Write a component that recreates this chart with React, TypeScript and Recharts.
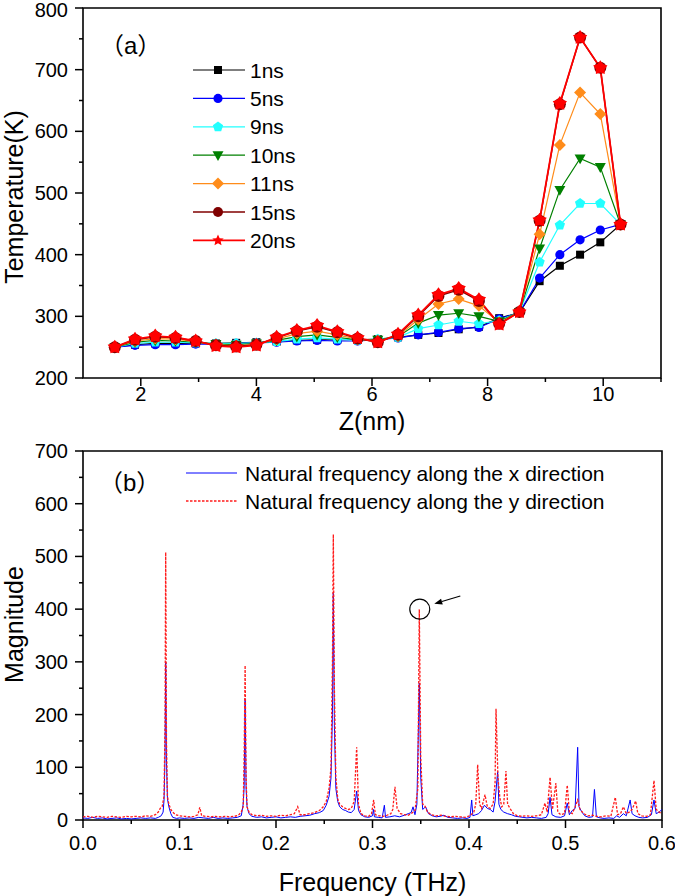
import React from 'react';
import {
  LineChart, Line, XAxis, YAxis, Legend,
  ReferenceArea, ReferenceDot, ReferenceLine,
} from 'recharts';

const FONT = '"Liberation Sans", Arial, "Noto Sans CJK SC", sans-serif';

// ---------- panel (a): temperature along Z ----------
const zValues = [1.55, 1.9, 2.25, 2.6, 2.95, 3.3, 3.65, 4.0, 4.35, 4.7, 5.05, 5.4, 5.75,
  6.1, 6.45, 6.8, 7.15, 7.5, 7.85, 8.2, 8.55, 8.9, 9.25, 9.6, 9.95, 10.3];

const temp1ns = [250, 254, 256, 256, 256, 256, 257, 258, 259, 261, 262, 262, 262,
  263, 266, 270, 273, 279, 283, 297, 306, 357, 382, 400, 420, 449];
const temp5ns = [250, 253, 254, 254, 255, 255, 256, 257, 258, 260, 261, 260, 260,
  262, 265, 270, 274, 280, 282, 296, 306, 362, 400, 424, 440, 449];
const temp9ns = [250, 256, 258, 258, 257, 256, 256, 257, 259, 263, 265, 263, 261,
  263, 266, 280, 286, 292, 288, 293, 307, 388, 448, 483, 483, 449];
const temp10ns = [250, 258, 261, 260, 258, 255, 254, 256, 261, 267, 270, 266, 262,
  262, 267, 289, 302, 305, 300, 292, 307, 410, 505, 556, 542, 449];
const temp11ns = [250, 260, 264, 263, 259, 254, 252, 255, 263, 272, 276, 270, 263,
  260, 268, 295, 320, 328, 317, 290, 307, 433, 578, 663, 628, 449];
const temp15ns = [250, 262, 267, 265, 260, 253, 251, 254, 265, 276, 283, 274, 264,
  258, 270, 300, 333, 343, 325, 288, 307, 455, 644, 752, 703, 449];
const temp20ns = [250, 263, 268, 266, 260, 252, 250, 253, 266, 277, 285, 275, 265,
  258, 271, 302, 335, 345, 327, 287, 307, 456, 645, 752, 703, 449];

const zTicks = [2, 3, 4, 5, 6, 7, 8, 9, 10, 11];
const zMajor = [2, 4, 6, 8, 10];
const tempTicks = [200, 250, 300, 350, 400, 450, 500, 550, 600, 650, 700, 750, 800];
const tempMajor = [200, 300, 400, 500, 600, 700, 800];

// ---------- panel (b): natural frequency spectrum ----------
const xDirFreq = [
  0, 0.005, 0.01, 0.015, 0.02, 0.025, 0.03, 0.035, 0.04, 0.045,
  0.05, 0.055, 0.06, 0.065, 0.07, 0.075, 0.078, 0.081, 0.083, 0.084,
  0.085, 0.0857, 0.0865, 0.0875, 0.089, 0.091, 0.093, 0.097, 0.1, 0.105,
  0.11, 0.115, 0.12, 0.125, 0.13, 0.135, 0.14, 0.145, 0.15, 0.155,
  0.16, 0.164, 0.166, 0.167, 0.168, 0.169, 0.17, 0.172, 0.175, 0.18,
  0.185, 0.19, 0.195, 0.2, 0.205, 0.21, 0.215, 0.22, 0.225, 0.23,
  0.235, 0.24, 0.245, 0.249, 0.252, 0.255, 0.257, 0.2585, 0.2594, 0.2605,
  0.262, 0.264, 0.266, 0.269, 0.272, 0.275, 0.278, 0.281, 0.2836, 0.2855,
  0.288, 0.292, 0.296, 0.3, 0.301, 0.302, 0.306, 0.31, 0.3123, 0.3135,
  0.318, 0.323, 0.328, 0.333, 0.337, 0.34, 0.342, 0.344, 0.346, 0.3485,
  0.35, 0.352, 0.355, 0.358, 0.362, 0.366, 0.37, 0.374, 0.378, 0.383,
  0.388, 0.393, 0.398, 0.401, 0.4028, 0.404, 0.407, 0.41, 0.413, 0.416,
  0.419, 0.422, 0.425, 0.427, 0.4297, 0.431, 0.433, 0.436, 0.44, 0.444,
  0.448, 0.452, 0.456, 0.46, 0.465, 0.47, 0.475, 0.48, 0.482, 0.484,
  0.486, 0.49, 0.495, 0.499, 0.5018, 0.504, 0.507, 0.51, 0.5126, 0.514,
  0.517, 0.52, 0.524, 0.528, 0.53, 0.532, 0.536, 0.54, 0.545, 0.55,
  0.553, 0.556, 0.56, 0.563, 0.567, 0.569, 0.572, 0.576, 0.58, 0.585,
  0.589, 0.5917, 0.594, 0.597, 0.6,
];
const xDirMag = [
  4, 3, 5, 3, 4, 2, 3, 4, 2, 3,
  2, 3, 4, 3, 4, 3, 5, 8, 15, 38,
  120, 300, 110, 40, 25, 12, 5, 3, 4, 3,
  4, 3, 5, 4, 3, 5, 3, 4, 3, 4,
  5, 8, 30, 63, 230, 60, 25, 12, 7, 5,
  6, 4, 5, 6, 4, 5, 6, 5, 7, 8,
  9, 12, 14, 18, 28, 45, 80, 200, 430, 180,
  60, 35, 25, 20, 18, 15, 14, 20, 55, 18,
  10, 6, 5, 8, 20, 6, 5, 4, 28, 5,
  6, 8, 6, 9, 12, 14, 25, 10, 30, 260,
  80, 20, 25, 12, 8, 6, 7, 9, 5, 4,
  3, 4, 3, 5, 38, 8, 10, 12, 18, 28,
  22, 20, 15, 35, 92, 30, 20, 15, 12, 10,
  7, 6, 5, 4, 5, 4, 3, 5, 12, 43,
  10, 6, 5, 8, 32, 10, 18, 22, 138, 25,
  15, 8, 5, 6, 58, 6, 4, 3, 4, 3,
  8, 5, 12, 8, 38, 12, 8, 5, 4, 5,
  10, 38, 12, 15, 20,
];

const yDirFreq = [
  0, 0.005, 0.01, 0.015, 0.02, 0.025, 0.03, 0.035, 0.04, 0.045,
  0.05, 0.055, 0.06, 0.065, 0.07, 0.075, 0.078, 0.08, 0.082, 0.084,
  0.085, 0.0857, 0.0865, 0.0875, 0.089, 0.091, 0.093, 0.096, 0.1, 0.105,
  0.11, 0.115, 0.119, 0.121, 0.123, 0.127, 0.132, 0.137, 0.142, 0.147,
  0.152, 0.157, 0.161, 0.164, 0.166, 0.167, 0.168, 0.169, 0.17, 0.172,
  0.175, 0.18, 0.185, 0.19, 0.195, 0.2, 0.205, 0.21, 0.215, 0.219,
  0.2225, 0.225, 0.23, 0.235, 0.24, 0.245, 0.249, 0.252, 0.255, 0.257,
  0.2585, 0.2594, 0.2605, 0.262, 0.264, 0.266, 0.269, 0.272, 0.275, 0.278,
  0.281, 0.2836, 0.2855, 0.288, 0.292, 0.296, 0.299, 0.3012, 0.303, 0.307,
  0.311, 0.315, 0.319, 0.321, 0.3233, 0.3255, 0.329, 0.333, 0.337, 0.34,
  0.344, 0.347, 0.3485, 0.35, 0.352, 0.354, 0.357, 0.361, 0.366, 0.371,
  0.376, 0.381, 0.386, 0.391, 0.396, 0.401, 0.405, 0.407, 0.409, 0.411,
  0.413, 0.4166, 0.419, 0.422, 0.425, 0.427, 0.428, 0.43, 0.432, 0.434,
  0.436, 0.4383, 0.44, 0.4425, 0.446, 0.45, 0.455, 0.46, 0.465, 0.47,
  0.475, 0.4787, 0.481, 0.484, 0.4865, 0.49, 0.492, 0.495, 0.499, 0.5018,
  0.504, 0.507, 0.51, 0.5126, 0.515, 0.519, 0.523, 0.528, 0.532, 0.537,
  0.542, 0.547, 0.5516, 0.554, 0.557, 0.56, 0.563, 0.566, 0.569, 0.5727,
  0.575, 0.579, 0.584, 0.588, 0.5917, 0.594, 0.597, 0.6,
];
const yDirMag = [
  6, 7, 5, 7, 6, 5, 7, 6, 5, 7,
  6, 7, 6, 8, 7, 10, 15, 22, 25, 45,
  180, 508, 150, 45, 30, 20, 15, 10, 8, 7,
  6, 7, 10, 24, 8, 7, 6, 7, 6, 7,
  6, 7, 9, 15, 25, 120, 293, 80, 25, 15,
  10, 8, 9, 7, 8, 7, 9, 8, 10, 12,
  25, 10, 10, 12, 14, 18, 25, 35, 60, 100,
  300, 542, 250, 82, 40, 30, 25, 22, 20, 22,
  35, 138, 30, 12, 8, 7, 12, 38, 10, 8,
  7, 9, 12, 20, 63, 22, 12, 10, 9, 12,
  18, 60, 400, 120, 30, 28, 15, 10, 8, 9,
  7, 6, 7, 6, 5, 8, 15, 30, 105, 30,
  22, 48, 25, 22, 30, 70, 211, 80, 42, 25,
  30, 93, 30, 22, 12, 8, 7, 8, 7, 8,
  10, 32, 15, 81, 20, 70, 15, 10, 12, 66,
  15, 12, 25, 38, 20, 12, 8, 9, 7, 6,
  8, 7, 43, 10, 12, 25, 12, 15, 20, 36,
  12, 8, 7, 10, 75, 20, 15, 12,
];

const freqTicks = [0, 0.05, 0.1, 0.15, 0.2, 0.25, 0.3, 0.35, 0.4, 0.45, 0.5, 0.55, 0.6];
const freqMajor = [0, 0.1, 0.2, 0.3, 0.4, 0.5, 0.6];
const magTicks = [0, 50, 100, 150, 200, 250, 300, 350, 400, 450, 500, 550, 600, 650, 700];
const magMajor = [0, 100, 200, 300, 400, 500, 600, 700];

// circled peak + arrow pointing at it
const circledPeak = { f: 0.349, m: 400 };
const arrowTail = { f: 0.391, m: 425 };
const arrowHead = { f: 0.364, m: 410 };

type MarkerKind = 'square' | 'circle' | 'pentagon' | 'triangle' | 'diamond' | 'bigcircle' | 'star';

const seriesA: { key: string; name: string; values: number[]; color: string; marker: MarkerKind; width: number }[] = [
  { key: 't1', name: '1ns', values: temp1ns, color: '#000000', marker: 'square', width: 1.2 },
  { key: 't5', name: '5ns', values: temp5ns, color: '#0000ff', marker: 'circle', width: 1.2 },
  { key: 't9', name: '9ns', values: temp9ns, color: '#22ffff', marker: 'pentagon', width: 1.2 },
  { key: 't10', name: '10ns', values: temp10ns, color: '#008000', marker: 'triangle', width: 1.2 },
  { key: 't11', name: '11ns', values: temp11ns, color: '#ff8c1a', marker: 'diamond', width: 1.2 },
  { key: 't15', name: '15ns', values: temp15ns, color: '#800000', marker: 'bigcircle', width: 1.4 },
  { key: 't20', name: '20ns', values: temp20ns, color: '#ff0000', marker: 'star', width: 1.8 },
];

const tableA = zValues.map((z, i) => {
  const row: Record<string, number> = { z };
  seriesA.forEach((s) => { row[s.key] = s.values[i]; });
  return row;
});

const xDirData = xDirFreq.map((f, i) => ({ f, m: xDirMag[i] }));
const yDirData = yDirFreq.map((f, i) => ({ f, m: yDirMag[i] }));

function polyPoints(cx: number, cy: number, n: number, rOut: number, rIn?: number) {
  const pts: string[] = [];
  const steps = rIn ? n * 2 : n;
  for (let k = 0; k < steps; k++) {
    const r = rIn && k % 2 === 1 ? rIn : rOut;
    const a = -Math.PI / 2 + (k * 2 * Math.PI) / steps;
    pts.push(`${cx + r * Math.cos(a)},${cy + r * Math.sin(a)}`);
  }
  return pts.join(' ');
}

function Marker({ kind, cx, cy, color, legend }: { kind: MarkerKind; cx: number; cy: number; color: string; legend?: boolean }) {
  if (cx == null || cy == null) return null;
  switch (kind) {
    case 'square':
      return <rect x={cx - 4} y={cy - 4} width={8} height={8} fill={color} />;
    case 'circle':
      return <circle cx={cx} cy={cy} r={4.6} fill={color} />;
    case 'bigcircle':
      return <circle cx={cx} cy={cy} r={legend ? 5 : 6} fill={color} />;
    case 'pentagon':
      return <polygon points={polyPoints(cx, cy, 5, 5.4)} fill={color} />;
    case 'triangle':
      return <polygon points={`${cx - 5.5},${cy - 4} ${cx + 5.5},${cy - 4} ${cx},${cy + 5.8}`} fill={color} />;
    case 'diamond':
      return <polygon points={`${cx},${cy - 6} ${cx + 6},${cy} ${cx},${cy + 6} ${cx - 6},${cy}`} fill={color} />;
    case 'star':
      return <polygon points={polyPoints(cx, cy, 5, legend ? 6 : 7.5, legend ? 2.8 : 4.6)} fill={color} />;
    default:
      return null;
  }
}

const xTick = (majors: number[], fmt: (v: number) => string, labelDy: number) => (p: any) => {
  const { x, y, payload } = p;
  const v = payload.value;
  const major = majors.some((m) => Math.abs(m - v) < 1e-9);
  return (
    <g>
      <line x1={x} y1={y} x2={x} y2={y + (major ? 8 : 4)} stroke="#000" strokeWidth={1.5} />
      {major && (
        <text x={x} y={y + labelDy} textAnchor="middle" dominantBaseline="central"
          fontSize={20} fontFamily={FONT} fill="#000">{fmt(v)}</text>
      )}
    </g>
  );
};

const yTick = (majors: number[]) => (p: any) => {
  const { x, y, payload } = p;
  const v = payload.value;
  const major = majors.includes(v);
  // keep the topmost label inside the page
  const ly = Math.max(y, 10);
  return (
    <g>
      <line x1={x} y1={y} x2={x - (major ? 8 : 4)} y2={y} stroke="#000" strokeWidth={1.5} />
      {major && (
        <text x={x - 15} y={ly} textAnchor="end" dominantBaseline="central"
          fontSize={20} fontFamily={FONT} fill="#000">{v}</text>
      )}
    </g>
  );
};

const xTitle = (text: string, dy: number) => (p: any) => {
  const vb = p.viewBox;
  if (!vb) return null;
  return (
    <text x={vb.x + vb.width / 2} y={vb.y + dy} textAnchor="middle" dominantBaseline="central"
      fontSize={25} fontFamily={FONT} fill="#000">{text}</text>
  );
};

const yTitle = (text: string, dy: number) => (p: any) => {
  const vb = p.viewBox;
  if (!vb) return null;
  const cx = 14;
  const cy = vb.y + vb.height / 2 + dy;
  return (
    <text x={cx} y={cy} transform={`rotate(-90, ${cx}, ${cy})`} textAnchor="middle"
      dominantBaseline="central" fontSize={25} fontFamily={FONT} fill="#000">{text}</text>
  );
};

const arrowShape = (p: any) => {
  const { x1, y1, x2, y2 } = p;
  const ang = Math.atan2(y2 - y1, x2 - x1);
  const L = 8;
  const W = 3;
  const bx = x2 - L * Math.cos(ang);
  const by = y2 - L * Math.sin(ang);
  const pts = `${x2},${y2} ${bx + W * Math.sin(ang)},${by - W * Math.cos(ang)} ${bx - W * Math.sin(ang)},${by + W * Math.cos(ang)}`;
  return (
    <g>
      <line x1={x1} y1={y1} x2={bx} y2={by} stroke="#000" strokeWidth={1.2} />
      <polygon points={pts} fill="#000" />
    </g>
  );
};

const legendA = () => (
  <svg width={240} height={240} style={{ display: 'block' }}>
    <text x={5} y={20} dominantBaseline="central" fontSize={24} fontFamily={FONT} fill="#000">（a）</text>
    {seriesA.map((s, i) => {
      const y = 45 + i * 28.4;
      return (
        <g key={s.key}>
          <line x1={98} x2={150} y1={y} y2={y} stroke={s.color} strokeWidth={s.width} />
          <Marker kind={s.marker} cx={123} cy={y} color={s.color} legend />
          <text x={155} y={y} dominantBaseline="central" fontSize={21} fontFamily={FONT} fill="#000">{s.name}</text>
        </g>
      );
    })}
  </svg>
);

const legendB = () => (
  <svg width={540} height={60} style={{ display: 'block' }}>
    <text x={4} y={22} dominantBaseline="central" fontSize={24} fontFamily={FONT} fill="#000">（b）</text>
    <line x1={91} x2={142} y1={13} y2={13} stroke="#0000ff" strokeWidth={1} />
    <text x={150} y={13} dominantBaseline="central" fontSize={21} fontFamily={FONT} fill="#000">
      Natural frequency along the x direction
    </text>
    <line x1={91} x2={142} y1={41} y2={41} stroke="#ff1a1a" strokeWidth={1.3} strokeDasharray="2.5 1.5" />
    <text x={150} y={41} dominantBaseline="central" fontSize={21} fontFamily={FONT} fill="#000">
      Natural frequency along the y direction
    </text>
  </svg>
);

export default function App() {
  return (
    <div style={{ position: 'absolute', left: 0, top: 0, width: 675, height: 896, background: '#fff', fontFamily: FONT }}>
      <div style={{ position: 'absolute', left: 0, top: 0 }}>
        <LineChart width={675} height={440} data={tableA} margin={{ top: 8, right: 14, bottom: 0, left: 0 }}>
          <XAxis dataKey="z" type="number" domain={[1, 11]} allowDataOverflow ticks={zTicks} interval={0}
            height={62} tickSize={0} tickMargin={0} axisLine={false} tickLine={false}
            tick={xTick(zMajor, (v) => String(v), 16)} label={{ content: xTitle('Z(nm)', 43) }} />
          <YAxis type="number" domain={[200, 800]} allowDataOverflow ticks={tempTicks} interval={0}
            width={83} tickSize={0} tickMargin={0} axisLine={false} tickLine={false}
            tick={yTick(tempMajor)} label={{ content: yTitle('Temperature(K)', 4) }} />
          <ReferenceArea x1={1} x2={11} y1={200} y2={800} fill="none" fillOpacity={0} stroke="#000" strokeWidth={1.6} />
          {seriesA.map((s) => (
            <Line key={s.key} dataKey={s.key} name={s.name} type="linear" stroke={s.color}
              strokeWidth={s.width} isAnimationActive={false}
              dot={(p: any) => <Marker key={`${s.key}-${p.index}`} kind={s.marker} cx={p.cx} cy={p.cy} color={s.color} />}
              activeDot={false} />
          ))}
          <Legend layout="horizontal" verticalAlign="middle" align="center" content={legendA}
            wrapperStyle={{ left: 95, top: 25, width: 240, height: 240 }} />
        </LineChart>
      </div>

      <div style={{ position: 'absolute', left: 0, top: 440 }}>
        <LineChart width={675} height={456} margin={{ top: 11, right: 13, bottom: 0, left: 0 }}>
          <XAxis dataKey="f" type="number" domain={[0, 0.6]} allowDataOverflow ticks={freqTicks} interval={0}
            height={76} tickSize={0} tickMargin={0} axisLine={false} tickLine={false}
            tick={xTick(freqMajor, (v) => v.toFixed(1), 23)} label={{ content: xTitle('Frequency (THz)', 62) }} />
          <YAxis type="number" domain={[0, 700]} allowDataOverflow ticks={magTicks} interval={0}
            width={83} tickSize={0} tickMargin={0} axisLine={false} tickLine={false}
            tick={yTick(magMajor)} label={{ content: yTitle('Magnitude', -11) }} />
          <ReferenceArea x1={0} x2={0.6} y1={0} y2={700} fill="none" fillOpacity={0} stroke="#000" strokeWidth={1.6} />
          <Line data={xDirData} dataKey="m" name="x direction" type="linear" stroke="#0000ff"
            strokeWidth={1} dot={false} activeDot={false} isAnimationActive={false} />
          <Line data={yDirData} dataKey="m" name="y direction" type="linear" stroke="#ff1a1a"
            strokeWidth={1.3} strokeDasharray="2.5 1.5" dot={false} activeDot={false} isAnimationActive={false} />
          <ReferenceDot x={circledPeak.f} y={circledPeak.m} r={10} fill="none" stroke="#000" strokeWidth={1.2} />
          <ReferenceLine segment={[{ x: arrowTail.f, y: arrowTail.m }, { x: arrowHead.f, y: arrowHead.m }]}
            stroke="#000" shape={arrowShape} />
          <Legend layout="horizontal" verticalAlign="middle" align="center" content={legendB}
            wrapperStyle={{ left: 95, top: 20, width: 540, height: 60 }} />
        </LineChart>
      </div>
    </div>
  );
}
